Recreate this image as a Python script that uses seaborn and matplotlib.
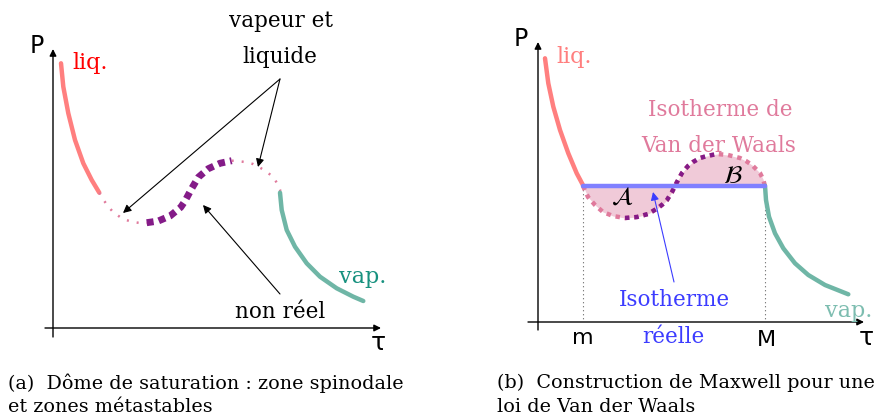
import matplotlib.pyplot as plt
import seaborn as sns

# curve points, in pixel coordinates (x right, y down)
# panel (a)
liq_a_x = [61, 63.3, 68.3, 75, 83.3, 91.7, 99.3]
liq_a_y = [63.3, 86.7, 113.3, 140, 163.3, 180, 192.7]
meta_left_a_x = [99.3, 103, 107, 113, 120, 126, 133, 140, 147]
meta_left_a_y = [192.7, 199, 205, 212, 217, 220, 222, 223, 223]
spino_a_x = [146.7, 158.3, 170, 180.7, 185, 192, 198.3, 208.3, 220, 231.7]
spino_a_y = [222.7, 221, 216, 207.3, 201, 188, 177.3, 168.7, 163.3, 160.7]
meta_right_a_x = [231.7, 237, 245, 253, 259, 267, 273, 277, 280.5]
meta_right_a_y = [160.7, 161, 162, 164, 167, 172, 177, 183, 191]
vap_a_x = [280, 281.7, 286.7, 295, 306.7, 320, 336.7, 353.3, 363.3]
vap_a_y = [192.7, 210, 230, 246.7, 263.3, 276.7, 288.3, 296.7, 301]

# panel (b)
liq_b_x = [545, 548.3, 553.3, 560, 568.3, 576.7, 583.3]
liq_b_y = [58.3, 83.3, 106.7, 130, 153.3, 173.3, 185.7]
vdw_x = [583, 588, 595, 603, 613, 625, 637, 648, 658, 663, 667, 672, 677, 682,
         688, 693, 700, 707, 717, 728, 740, 746, 752, 756, 760, 763, 765]
vdw_y = [186, 197, 205, 212, 216, 218, 217, 214, 208, 204, 200, 192, 182, 173,
         166, 162, 158, 156, 154, 155, 158, 161, 165, 169, 173, 179, 186]
spino_b_x = [625, 637, 648, 658, 663, 667, 672, 677, 682, 688, 693, 700, 707, 717]
spino_b_y = [218, 217, 214, 208, 204, 200, 192, 182, 173, 166, 162, 158, 156, 154]
vap_b_x = [765, 766, 769, 775, 783.3, 795, 808.3, 825, 848.3]
vap_b_y = [185.7, 200, 216.7, 233.3, 248.3, 263.3, 275, 285, 294.3]
palier_x = [583, 765]
palier_y = [186, 186]

salmon = "#ff7f7f"
teal = "#6fb6a6"
purple = "#841b88"
pink = "#e07a9c"
fill_pink = "#f0cad8"
blue_line = "#8080ff"
blue_text = "#3c3cff"

sns.set_theme(style="white")
plt.rcParams["text.color"] = "black"
fig = plt.figure(figsize=(8.91, 4.19), dpi=100)
ax = fig.add_axes([0, 0, 1, 1])
ax.set_xlim(0, 891)
ax.set_ylim(419, 0)
ax.axis("off")

serif = ["DejaVu Serif"]
lab = 15.5


def curve(x, y, **kw):
    sns.lineplot(x=x, y=y, ax=ax, sort=False, estimator=None, legend=False, **kw)


def axis_arrow(x0, y0, x1, y1):
    ax.annotate("", xy=(x1, y1), xytext=(x0, y0),
                arrowprops=dict(arrowstyle="-|>", color="black", lw=1.0,
                                shrinkA=0, shrinkB=0, mutation_scale=10))


def pointer(x0, y0, x1, y1, color="black"):
    ax.annotate("", xy=(x1, y1), xytext=(x0, y0),
                arrowprops=dict(arrowstyle="-|>", color=color, lw=0.8,
                                shrinkA=0, shrinkB=0, mutation_scale=12))


# ---- panel (a) ----
axis_arrow(53, 337, 53, 49)
axis_arrow(45, 328, 381, 328)
ax.text(37, 46, "P", fontsize=17, ha="center", va="center")
ax.text(378, 343, "τ", fontsize=18, ha="center", va="center")

curve(liq_a_x, liq_a_y, color=salmon, linewidth=3.2)
curve(meta_left_a_x, meta_left_a_y, color=pink, linewidth=1.8, linestyle=(0, (0.8, 3.2)))
curve(spino_a_x, spino_a_y, color=purple, linewidth=5.0, linestyle=(0, (1.0, 0.75)))
curve(meta_right_a_x, meta_right_a_y, color=pink, linewidth=1.8, linestyle=(0, (0.8, 3.2)))
curve(vap_a_x, vap_a_y, color=teal, linewidth=3.2)

ax.text(90, 63, "liq.", color="red", fontsize=16, ha="center", va="center", family=serif)
ax.text(363, 277, "vap.", color="#17917f", fontsize=16, ha="center", va="center", family=serif)
ax.text(281, 21, "vapeur et", fontsize=lab, ha="center", va="center", family=serif)
ax.text(280, 57, "liquide", fontsize=lab, ha="center", va="center", family=serif)
ax.text(280, 312, "non réel", fontsize=lab, ha="center", va="center", family=serif)

pointer(280, 79, 123, 213)
pointer(280, 79, 258, 167)
pointer(280, 294, 203, 205)

# ---- panel (b) ----
ax.fill_between(vdw_x, vdw_y, 186, color=fill_pink, linewidth=0)
axis_arrow(538, 330, 538, 42)
axis_arrow(528, 322, 864, 322)
ax.text(521, 39, "P", fontsize=17, ha="center", va="center")
ax.text(866, 338, "τ", fontsize=18, ha="center", va="center")

curve([583, 583], [186, 322], color="black", linewidth=0.8, linestyle=(0, (0.6, 3)))
curve([765, 765], [186, 322], color="black", linewidth=0.8, linestyle=(0, (0.6, 3)))

curve(liq_b_x, liq_b_y, color=salmon, linewidth=3.2)
curve(vdw_x, vdw_y, color=pink, linewidth=3.2, linestyle=(0, (1.0, 1.1)))
curve(spino_b_x, spino_b_y, color=purple, linewidth=3.2, linestyle=(0, (1.0, 1.1)))
curve(vap_b_x, vap_b_y, color=teal, linewidth=3.2)
curve(palier_x, palier_y, color=blue_line, linewidth=3.2)

ax.text(622, 197, r"$\mathcal{A}$", fontsize=18, ha="center", va="center")
ax.text(733, 176, r"$\mathcal{B}$", fontsize=18, ha="center", va="center")

ax.text(574, 57, "liq.", color=salmon, fontsize=16, ha="center", va="center", family=serif)
ax.text(849, 311, "vap.", color="#7dbdb0", fontsize=16, ha="center", va="center", family=serif)
ax.text(720, 110, "Isotherme de", color=pink, fontsize=lab, ha="center", va="center", family=serif)
ax.text(719, 146, "Van der Waals", color=pink, fontsize=lab, ha="center", va="center", family=serif)
ax.text(674, 300, "Isotherme", color=blue_text, fontsize=lab, ha="center", va="center", family=serif)
ax.text(673, 337, "réelle", color=blue_text, fontsize=lab, ha="center", va="center", family=serif)
ax.text(583, 338, "m", fontsize=16, ha="center", va="center")
ax.text(766, 340, "M", fontsize=16, ha="center", va="center")
pointer(674, 282, 653, 192, color=blue_text)

# ---- captions ----
cap = 13.8
ax.text(8, 383, "(a)  Dôme de saturation : zone spinodale", fontsize=cap,
        ha="left", va="center", family=serif)
ax.text(8, 407, "et zones métastables", fontsize=cap, ha="left", va="center", family=serif)
ax.text(497, 383, "(b)  Construction de Maxwell pour une", fontsize=cap,
        ha="left", va="center", family=serif)
ax.text(497, 407, "loi de Van der Waals", fontsize=cap, ha="left", va="center", family=serif)

plt.savefig("out.png", dpi=100)
